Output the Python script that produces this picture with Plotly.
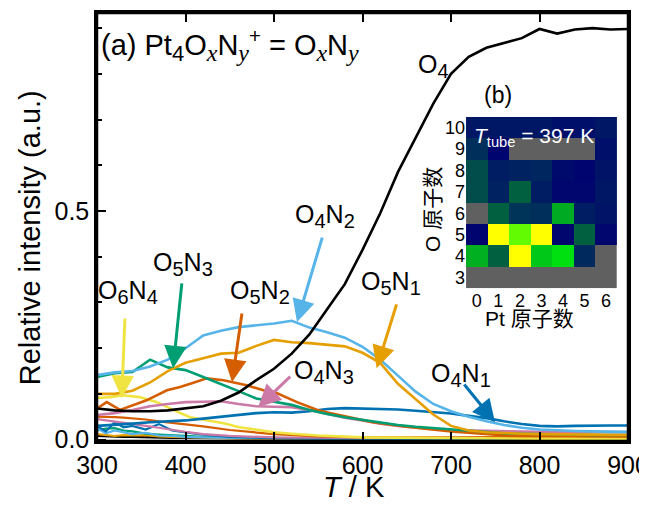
import plotly.graph_objects as go

# ---------------- data ----------------
T = [300, 320, 340, 360, 380, 400, 420, 440, 460, 480, 500, 520, 540, 560, 580, 600,
     620, 640, 660, 680, 700, 720, 740, 760, 780, 800, 820, 840, 860, 880, 900]

O4 = [0.068, 0.064, 0.062, 0.062, 0.064, 0.068, 0.073, 0.085, 0.103, 0.130, 0.155, 0.188,
      0.230, 0.285, 0.340, 0.415, 0.495, 0.585, 0.660, 0.735, 0.800, 0.837, 0.857, 0.868,
      0.878, 0.898, 0.888, 0.897, 0.900, 0.897, 0.898]
O4N2 = [0.141, 0.147, 0.150, 0.160, 0.175, 0.200, 0.228, 0.238, 0.246, 0.250, 0.254, 0.260,
        0.245, 0.235, 0.223, 0.203, 0.175, 0.140, 0.105, 0.078, 0.062, 0.050, 0.040, 0.032,
        0.026, 0.022, 0.020, 0.019, 0.018, 0.018, 0.017]
O5N1 = [0.100, 0.100, 0.107, 0.125, 0.150, 0.168, 0.178, 0.188, 0.190, 0.205, 0.218, 0.213,
        0.211, 0.207, 0.204, 0.190, 0.168, 0.122, 0.088, 0.055, 0.030, 0.020, 0.016, 0.014,
        0.013, 0.012, 0.012, 0.011, 0.011, 0.010, 0.010]
O5N3 = [0.137, 0.145, 0.148, 0.175, 0.158, 0.152, 0.137, 0.122, 0.106, 0.090, 0.083, 0.076,
        0.065, 0.056, 0.049, 0.043, 0.037, 0.032, 0.028, 0.025, 0.022, 0.019, 0.016, 0.014,
        0.013, 0.012, 0.011, 0.011, 0.010, 0.010, 0.010]
O4N3 = [0.054, 0.058, 0.065, 0.073, 0.078, 0.082, 0.083, 0.084, 0.078, 0.073, 0.072, 0.071,
        0.065, 0.057, 0.048, 0.042, 0.035, 0.030, 0.026, 0.023, 0.021, 0.020, 0.019, 0.018,
        0.018, 0.017, 0.017, 0.017, 0.017, 0.017, 0.016]
O4N1 = [0.030, 0.032, 0.035, 0.038, 0.040, 0.042, 0.046, 0.050, 0.054, 0.058, 0.060, 0.059,
        0.062, 0.067, 0.069, 0.068, 0.068, 0.066, 0.063, 0.060, 0.057, 0.052, 0.047, 0.040,
        0.034, 0.030, 0.029, 0.030, 0.031, 0.031, 0.031]

T_O5N2 = [300, 311, 326, 340, 356, 379, 394, 408, 424, 443, 469, 488, 503, 526, 549, 563,
          586, 612, 650, 700, 750, 800, 850, 900]
O5N2 = [0.068, 0.082, 0.065, 0.075, 0.086, 0.108, 0.115, 0.124, 0.134, 0.130, 0.119, 0.108,
        0.102, 0.082, 0.065, 0.058, 0.049, 0.038, 0.028, 0.018, 0.011, 0.009, 0.008, 0.007]

T_O6N4 = [300, 315, 329, 348, 368, 386, 405, 424, 443, 461, 480, 500, 520, 550, 600, 650,
          700, 800, 900]
O6N4 = [0.091, 0.093, 0.097, 0.093, 0.082, 0.065, 0.049, 0.043, 0.036, 0.027, 0.022, 0.016,
        0.013, 0.009, 0.005, 0.004, 0.003, 0.002, 0.002]

# minor species (near the baseline)
T_low = [300, 310, 320, 330, 340, 355, 370, 385, 400, 420, 450, 500, 550, 600, 700, 800, 900]
low_a = [0.050, 0.050, 0.049, 0.048, 0.047, 0.044, 0.040, 0.037, 0.034, 0.029, 0.021, 0.012,
         0.007, 0.005, 0.005, 0.006, 0.006]
low_b = [0.045, 0.042, 0.040, 0.036, 0.034, 0.030, 0.026, 0.021, 0.017, 0.012, 0.008, 0.005,
         0.004, 0.004, 0.004, 0.004, 0.004]
low_c = [0.030, 0.018, 0.038, 0.027, 0.030, 0.022, 0.034, 0.020, 0.016, 0.011, 0.006, 0.003,
         0.002, 0.002, 0.002, 0.002, 0.002]
low_d = [0.025, 0.014, 0.020, 0.016, 0.012, 0.015, 0.009, 0.008, 0.006, 0.005, 0.004, 0.003,
         0.003, 0.003, 0.003, 0.003, 0.003]
low_e = [0.020, 0.024, 0.025, 0.020, 0.018, 0.013, 0.011, 0.009, 0.008, 0.006, 0.005, 0.004,
         0.003, 0.003, 0.003, 0.003, 0.003]
low_f = [0.012, 0.010, 0.008, 0.010, 0.009, 0.010, 0.007, 0.006, 0.005, 0.004, 0.003, 0.002,
         0.002, 0.002, 0.002, 0.002, 0.002]
low_g = [0.008, 0.007, 0.007, 0.006, 0.006, 0.005, 0.005, 0.004, 0.004, 0.003, 0.003, 0.002,
         0.002, 0.001, 0.001, 0.001, 0.001]

# inset heat map: rows O = 3..10, columns Pt = 0..6
pt_counts = [0, 1, 2, 3, 4, 5, 6]
o_counts = [3, 4, 5, 6, 7, 8, 9, 10]
z_inset = [
    [None, None, None, None, None, None, None],
    [0.70, 0.45, 1.00, 0.75, 0.80, 0.22, None],
    [0.02, 1.00, 0.87, 1.00, 0.03, 0.45, 0.03],
    [None, 0.45, 0.28, 0.25, 0.68, 0.15, 0.10],
    [0.38, 0.18, 0.45, 0.15, 0.03, 0.03, 0.12],
    [0.38, 0.15, 0.18, 0.20, 0.05, 0.02, 0.10],
    [0.25, 0.02, None, None, None, None, 0.08],
    [0.12, 0.12, 0.12, 0.12, 0.08, 0.08, 0.12],
]

# ---------------- style ----------------
C_BLACK = "#000000"
C_ORANGE = "#E69F00"
C_SKY = "#56B4E9"
C_GREEN = "#009E73"
C_YELLOW = "#F0E442"
C_BLUE = "#0072B2"
C_VERM = "#D55E00"
C_PINK = "#CC79A7"
FONT = "Liberation Sans, Arial, Noto Sans CJK SC, sans-serif"
CJK = "Liberation Sans, Noto Sans CJK SC, sans-serif"

fig = go.Figure()

def add_line(x, y, color, w=2.6):
    fig.add_trace(go.Scatter(x=x, y=y, mode="lines", line=dict(color=color, width=w),
                             showlegend=False, hoverinfo="skip"))

add_line(T_low, low_g, C_BLACK, 2.2)
add_line(T_low, low_f, C_ORANGE, 2.2)
add_line(T_low, low_e, C_GREEN, 2.2)
add_line(T_low, low_d, C_SKY, 2.2)
add_line(T_low, low_c, C_BLUE, 2.2)
add_line(T_low, low_b, C_PINK, 2.2)
add_line(T_low, low_a, C_VERM, 2.2)

add_line(T_O6N4, O6N4, C_YELLOW)
add_line(T, O4N1, C_BLUE)
add_line(T, O4N3, C_PINK)
add_line(T_O5N2, O5N2, C_VERM)
add_line(T, O5N3, C_GREEN)
add_line(T, O5N1, C_ORANGE)
add_line(T, O4N2, C_SKY)
add_line(T, O4, C_BLACK)

fig.add_trace(go.Heatmap(
    x=pt_counts, y=o_counts, z=z_inset, xaxis="x2", yaxis="y2",
    zmin=0, zmax=1, showscale=False, hoverinfo="skip",
    colorscale=[[0.0, "#000070"], [0.15, "#001d63"], [0.30, "#003858"],
                [0.45, "#006040"], [0.70, "#00b020"], [0.80, "#00e010"],
                [0.88, "#70ff00"], [1.0, "#ffff00"]],
))

fig.add_shape(type="rect", xref="x2", yref="y2", x0=-0.5, x1=6.5, y0=2.5, y1=10.5,
              fillcolor="#606060", line=dict(width=0), layer="below")
fig.add_shape(type="rect", xref="paper", yref="paper", x0=0, x1=1, y0=0, y1=1,
              line=dict(color="black", width=2.5), fillcolor="rgba(0,0,0,0)", layer="above")

axis_common = dict(showline=True, linecolor="black", linewidth=2.5,
                   ticks="inside", tickcolor="black", showgrid=False, zeroline=False,
                   ticklabeloverflow="allow",
                   tickfont=dict(family=FONT, size=25, color="black"))

fig.update_layout(
    width=639, height=497,
    margin=dict(l=89, r=19, t=5, b=64, autoexpand=False),
    paper_bgcolor="white", plot_bgcolor="white",
    font=dict(family=FONT, color="black"),
    xaxis=dict(range=[300, 900], tick0=300, dtick=100, ticklen=9, tickwidth=2,
               mirror="allticks", **axis_common),
    yaxis=dict(range=[-0.003, 0.933], tick0=0, dtick=0.5, tickformat=".1f", ticklen=9, tickwidth=2,
               mirror=True,
               minor=dict(dtick=0.1, ticklen=5, tickwidth=1.5, ticks="inside", tickcolor="black"),
               **axis_common),
    xaxis2=dict(domain=[0.695, 0.979], anchor="y2", range=[-0.5, 6.5], showgrid=False,
                zeroline=False, showline=False, ticks="", tickvals=pt_counts,
                tickfont=dict(family=FONT, size=18, color="black")),
    yaxis2=dict(domain=[0.357, 0.757], anchor="x2", range=[2.5, 10.5], showgrid=False,
                zeroline=False, showline=False, ticks="", tickvals=o_counts,
                tickfont=dict(family=FONT, size=18, color="black")),
)

def pann(text, x, y, size, **kw):
    d = dict(text=text, xref="paper", yref="paper", x=x, y=y, xanchor="center",
             yanchor="middle", showarrow=False, font=dict(size=size, family=kw.pop("family", FONT),
                                                          color=kw.pop("color", "black")))
    d.update(kw)
    return d

def sub(s, px):
    return "<sub><span style='font-size:%dpx'>%s</span></sub>" % (px, s)

def isub(s, px):
    return "<sub><span style='font-size:%dpx;font-family:Liberation Serif'><i>%s</i></span></sub>" % (px, s)

ann = []
ann.append(pann("Relative intensity (a.u.)", -0.126, 0.474, 29, textangle=-90))
ann.append(pann("<i>T</i> / K", 0.484, -0.107, 29))
title = ("(a) Pt" + sub("4", 22) + "O" + isub("x", 24) + "N" + isub("y", 24) + "<sup>+</sup>"
         + " = O" + isub("x", 24) + "N" + isub("y", 24))
ann.append(pann(title, 0.004, 0.925, 29, xanchor="left"))
ann.append(pann("(b)", 0.755, 0.808, 23))
ann.append(pann("<i>T</i><sub>tube</sub> = 397 K", 0.706, 0.71, 21, xanchor="left", color="white"))
ann.append(pann("Pt 原子数", 0.815, 0.287, 21, family=CJK))
ann.append(pann("O 原子数", 0.633, 0.54, 21, family=CJK, textangle=-90))

labels = [
    ("O" + sub("4", 20), 680, 0.817),
    ("O" + sub("4", 20) + "N" + sub("2", 20), 558, 0.489),
    ("O" + sub("5", 20) + "N" + sub("3", 20), 397, 0.384),
    ("O" + sub("6", 20) + "N" + sub("4", 20), 335, 0.323),
    ("O" + sub("5", 20) + "N" + sub("2", 20), 484, 0.323),
    ("O" + sub("5", 20) + "N" + sub("1", 20), 632, 0.342),
    ("O" + sub("4", 20) + "N" + sub("3", 20), 556, 0.148),
    ("O" + sub("4", 20) + "N" + sub("1", 20), 711, 0.141),
]
for txt, lx, ly in labels:
    ann.append(dict(text=txt, x=lx, y=ly, xref="x", yref="y", showarrow=False,
                    xanchor="center", yanchor="middle", font=dict(size=25, family=FONT)))

arrows = [
    (555, 0.445, 526, 0.257, C_SKY),
    (396, 0.345, 386, 0.156, C_GREEN),
    (331.6, 0.268, 328, 0.091, C_YELLOW),
    (464, 0.279, 452.6, 0.126, C_VERM),
    (520, 0.141, 482, 0.071, C_PINK),
    (639, 0.299, 616, 0.156, C_ORANGE),
    (713.6, 0.124, 749.7, 0.038, C_BLUE),
]
for ax_, ay_, hx, hy, col in arrows:
    ann.append(dict(text="", x=hx, y=hy, ax=ax_, ay=ay_, xref="x", yref="y", axref="x", ayref="y",
                    showarrow=True, arrowhead=2, arrowsize=1.5, arrowwidth=3, arrowcolor=col,
                    standoff=0))

fig.update_layout(annotations=ann)
fig.write_html("out.html")
